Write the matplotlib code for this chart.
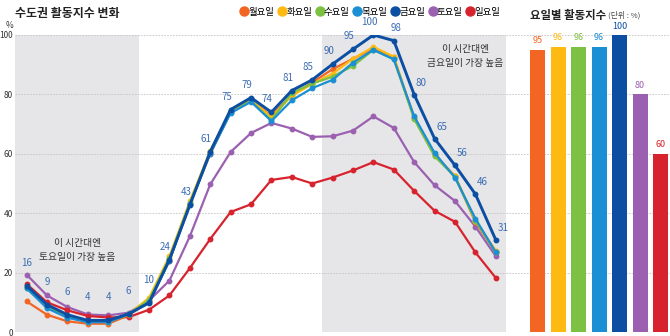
import matplotlib
matplotlib.use('Agg')
import matplotlib.pyplot as plt
from matplotlib.lines import Line2D

plt.rcParams['font.family'] = ['Noto Sans CJK KR', 'DejaVu Sans']

# data
hours = list(range(24))
days = ['월요일', '화요일', '수요일', '목요일', '금요일', '토요일', '일요일']
colors = ['#F26522', '#FDBA12', '#7DC142', '#1A8FD4', '#0B4EA2', '#9B61B0', '#D7232E']

mon = [10.3, 5.8, 3.6, 2.8, 2.8, 5.6, 10.5, 24, 43, 60, 74, 78, 72.8, 79.8, 84, 88.5, 92, 95.5, 92.5, 72, 59.5, 52.5, 37, 27]
tue = [15, 8.5, 5.2, 3.5, 3.5, 6, 11.5, 25.5, 44, 61, 74.5, 78, 72.4, 79.5, 83.5, 87, 92, 96, 92.7, 72, 59.5, 52.5, 37.5, 27.4]
wed = [14.8, 8.3, 5, 3.4, 3.4, 6, 10.8, 24.8, 43.5, 60.5, 74, 77.7, 71.3, 80.5, 83.6, 86, 89.6, 95, 91.8, 71.7, 59.2, 52.2, 37.5, 26.8]
thu = [14.7, 8, 4.8, 3.3, 3.3, 6, 10, 24, 43, 60, 73.7, 77.5, 71, 78, 82.1, 84.9, 90.7, 95, 91.8, 72.6, 60.3, 52, 38.2, 26.8]
fri = [15.6, 9.2, 5.8, 3.9, 3.9, 6.1, 9.8, 24.4, 42.7, 60.7, 74.9, 78.9, 74, 81.3, 84.9, 90.2, 95.2, 100, 98.1, 79.9, 65.1, 56.1, 46.4, 31]
sat = [19.3, 12.3, 8.4, 5.9, 5.6, 6.5, 10.6, 17.3, 32.2, 49.7, 60.6, 67, 70.4, 68.5, 65.7, 65.9, 67.8, 72.6, 68.7, 57.2, 49.4, 44.1, 35.5, 25.5]
sun = [16.2, 10, 7.3, 5.4, 4.9, 5.0, 7.5, 12.3, 21.5, 31.3, 40.4, 43, 51.2, 52.2, 50, 52, 54.4, 57.2, 54.7, 47.5, 40.8, 37.1, 26.8, 18.2]
fri_labels = [16, 9, 6, 4, 4, 6, 10, 24, 43, 61, 75, 79, 74, 81, 85, 90, 95, 100, 98, 80, 65, 56, 46, 31]

bar_values = [95, 96, 96, 96, 100, 80, 60]

W, H = 670, 336
fig = plt.figure(figsize=(6.7, 3.36), dpi=100)

# line chart
ax = fig.add_axes([15 / W, 4 / H, (506 - 15) / W, (332 - 35) / H])
ax.set_xlim(-0.57, 23.5)
ax.set_ylim(0, 100)
ax.axvspan(-0.6, 5.5, color='#E6E6E8', lw=0, zorder=0)
ax.axvspan(14.5, 23.5, color='#E6E6E8', lw=0, zorder=0)
for v in [0, 20, 40, 60, 80, 100]:
    ax.axhline(v, color='#C4C4C4', lw=0.6, ls=(0, (2, 1.5)), zorder=1)

series = [mon, tue, wed, thu, fri, sat, sun]
order = [5, 6, 0, 1, 2, 3, 4]
for i in order:
    lw = 2.1 if i == 4 else 1.6
    ax.plot(hours, series[i], color=colors[i], lw=lw, marker='o', ms=3.2, zorder=3 + (i == 4))

# friday value labels
for h, lab in zip(hours, fri_labels):
    if h <= 6:
        off = (0, 18)
    elif h == 18:
        off = (2, 8)
    elif h >= 19:
        off = (7, 7)
    else:
        off = (-4, 8)
    ax.annotate(str(lab), (h, fri[h]), xytext=off, textcoords='offset pixels',
                ha='center', va='bottom', fontsize=7, color='#3C6DB3', zorder=6)

ax.text(2.5, 27.5, '이 시간대엔\n토요일이 가장 높음', ha='center', va='center',
        fontsize=7, color='#333333', linespacing=1.5)
ax.text(21.5, 93, '이 시간대엔\n금요일이 가장 높음', ha='center', va='center',
        fontsize=7, color='#333333', linespacing=1.5)

ax.set_yticks([0, 20, 40, 60, 80, 100])
ax.tick_params(axis='y', length=0, labelsize=6, labelcolor='#333333', pad=1.5)
ax.set_xticks([])
for s in ax.spines.values():
    s.set_visible(False)
ax.patch.set_alpha(0)

fig.text(10 / W, 1 - 25 / H, '%', fontsize=6, color='#333333', ha='center', va='center')
fig.text(15 / W, 1 - 13 / H, '수도권 활동지수 변화', fontsize=8.6, fontweight='bold',
         color='#222222', va='center')

handles = [Line2D([], [], ls='', marker='o', ms=6.5, color=c) for c in colors]
fig.legend(handles, days, loc='center left', bbox_to_anchor=(241 / W, 1 - 12 / H), ncol=7,
           frameon=False, fontsize=6.8, handlelength=0.7, handletextpad=0.1,
           columnspacing=0.45, borderpad=0, borderaxespad=0)

# bar chart
bx = fig.add_axes([506 / W, 4 / H, (670 - 506) / W, (332 - 35) / H])
bx.set_xlim(-1.54, 6.46)
bx.set_ylim(0, 100)
for v in [0, 20, 40, 60, 80, 100]:
    bx.axhline(v, color='#C4C4C4', lw=0.6, ls=(0, (2, 1.5)), zorder=1)
xs = list(range(len(bar_values)))
bx.bar(xs, bar_values, width=0.73, color=colors, zorder=2)
for x, v, c in zip(xs, bar_values, colors):
    bx.text(x, v + 1.5, str(v), ha='center', va='bottom', fontsize=6.5, color=c)
bx.set_xticks([])
bx.set_yticks([])
for s in bx.spines.values():
    s.set_visible(False)
bx.patch.set_alpha(0)

t = fig.text(530 / W, 1 - 15 / H, '요일별 활동지수', fontsize=8.2, fontweight='bold',
             color='#222222', va='center')
bx.annotate('(단위 : %)', xy=(1, 0.5), xycoords=t, xytext=(2, 0), textcoords='offset pixels',
            ha='left', va='center', fontsize=5.6, color='#444444', annotation_clip=False)

fig.savefig('out.png', dpi=100)
